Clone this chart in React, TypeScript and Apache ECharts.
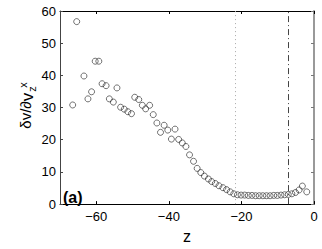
import React, { useEffect, useRef } from "react";
import * as echarts from "echarts";

const zValues = [
  -66.5, -65.4, -63.4, -62.3, -61.3, -60.3, -59.3, -58.4, -57.3, -56.4, -55.3, -54.3,
  -53.3, -52.3, -51.3, -50.3, -49.4, -48.3, -47.3, -46.4, -45.3, -44.3, -43.3, -42.3,
  -41.3, -40.3, -39.3, -38.3, -37.3, -36.3, -35.3, -34.3, -33.2, -32.2, -31.2, -30.2,
  -29.1, -28.2, -27.2, -26.2, -25.1, -24.1, -23.1, -22.1, -21.1, -20.1, -19.1, -18.1,
  -17.1, -16.1, -15.1, -14.1, -13.1, -12.1, -11.1, -10.1, -9.1, -8.1, -7.1, -6.1,
  -5.1, -4.1, -3.2, -2.0,
];
const gradientValues = [
  30.8, 56.7, 39.8, 32.7, 34.9, 44.4, 44.4, 37.4, 36.8, 32.7, 31.7, 36.1,
  30.1, 29.5, 28.7, 28.1, 33.2, 32.5, 30.7, 29.6, 30.7, 27.8, 25.2, 22.3,
  24.5, 23.0, 20.2, 23.3, 20.1, 19.0, 17.9, 15.3, 13.3, 11.1, 9.8, 8.7,
  7.8, 7.0, 6.4, 5.7, 5.1, 4.5, 3.8, 3.2, 2.9, 2.8, 2.8, 2.7,
  2.7, 2.6, 2.6, 2.6, 2.6, 2.6, 2.7, 2.7, 2.8, 2.9, 3.0, 3.2,
  3.6, 4.4, 5.6, 3.8,
];
const xTickValues = [-60, -40, -20, 0];
const dottedLineZ = -21.6;
const dashDotLineZ = -7.1;
const panelLabel = "(a)";
const xAxisName = "z";

const FONT = "Liberation Sans, Arial, Helvetica, sans-serif";

export default function App() {
  const ref = useRef<HTMLDivElement>(null);
  useEffect(() => {
    if (!ref.current) return;
    const chart = echarts.init(ref.current, null, { renderer: "svg" });
    const data = zValues.map((z, i) => [z, gradientValues[i]]);
    const fmt = (v: number) => (v < 0 ? "\u2212" + Math.abs(v) : String(v));
    chart.setOption({
      animation: false,
      backgroundColor: "#fff",
      grid: { left: 60, right: 8, top: 11, bottom: 38 },
      xAxis: [
        {
          type: "value",
          position: "bottom",
          min: -70,
          max: 0,
          name: xAxisName,
          nameLocation: "middle",
          nameGap: 17,
          nameTextStyle: { fontFamily: FONT, fontSize: 16, color: "#000" },
          axisLine: { show: true, onZero: false, lineStyle: { color: "#000", width: 1 } },
          axisTick: { show: true, inside: true, length: 3, customValues: xTickValues, lineStyle: { color: "#000" } },
          axisLabel: {
            show: true,
            customValues: xTickValues,
            margin: 6,
            fontFamily: FONT,
            fontSize: 13,
            color: "#000",
            formatter: fmt,
          },
          splitLine: { show: false },
        },
        {
          type: "value",
          position: "top",
          min: -70,
          max: 0,
          axisLine: { show: true, onZero: false, lineStyle: { color: "#000", width: 1 } },
          axisTick: { show: true, inside: true, length: 3, customValues: xTickValues, lineStyle: { color: "#000" } },
          axisLabel: { show: false },
          splitLine: { show: false },
        },
      ],
      yAxis: [
        {
          type: "value",
          position: "left",
          min: 0,
          max: 60,
          interval: 10,
          axisLine: { show: true, onZero: false, lineStyle: { color: "#444", width: 1 } },
          axisTick: { show: true, inside: true, length: 3, lineStyle: { color: "#444" } },
          axisLabel: { show: true, margin: 4, fontFamily: FONT, fontSize: 13, color: "#000" },
          splitLine: { show: false },
        },
        {
          type: "value",
          position: "right",
          min: 0,
          max: 60,
          interval: 10,
          axisLine: { show: true, onZero: false, lineStyle: { color: "#999", width: 2 } },
          axisTick: { show: true, inside: true, length: 3, lineStyle: { color: "#777" } },
          axisLabel: { show: false },
          splitLine: { show: false },
        },
      ],
      series: [
        {
          type: "scatter",
          xAxisIndex: 0,
          yAxisIndex: 0,
          data,
          symbol: "circle",
          symbolSize: 6,
          itemStyle: { color: "rgba(255,255,255,0)", borderColor: "#222", borderWidth: 0.8 },
          markLine: {
            silent: true,
            symbol: "none",
            label: { show: false },
            data: [
              { xAxis: dottedLineZ, lineStyle: { type: [1, 3], color: "#aaa", width: 1 } },
              { xAxis: dashDotLineZ, lineStyle: { type: [6, 3, 1, 3], color: "#444", width: 1 } },
            ],
          },
        },
      ],
      graphic: [
        {
          type: "text",
          left: 63,
          top: 189,
          style: { text: panelLabel, font: "bold 16px " + FONT, fill: "#000" },
        },
        {
          type: "text",
          x: 25,
          y: 115,
          rotation: Math.PI / 2,
          style: { text: "\u03b4v/\u2202", font: "15px " + FONT, fill: "#000", textAlign: "center", textVerticalAlign: "middle" },
        },
        {
          type: "text",
          x: 27,
          y: 97,
          rotation: Math.PI / 2,
          style: { text: "v", font: "17px " + FONT, fill: "#000", textAlign: "center", textVerticalAlign: "middle" },
        },
        {
          type: "text",
          x: 32,
          y: 89,
          rotation: Math.PI / 2,
          style: { text: "z", font: "11px " + FONT, fill: "#000", textAlign: "center", textVerticalAlign: "middle" },
        },
        {
          type: "text",
          x: 23,
          y: 85,
          rotation: Math.PI / 2,
          style: { text: "x", font: "11px " + FONT, fill: "#000", textAlign: "center", textVerticalAlign: "middle" },
        },
      ],
    });
    return () => chart.dispose();
  }, []);
  return (
    <div
      ref={ref}
      style={{ position: "fixed", left: 0, top: 0, width: 322, height: 249, background: "#fff" }}
    />
  );
}
